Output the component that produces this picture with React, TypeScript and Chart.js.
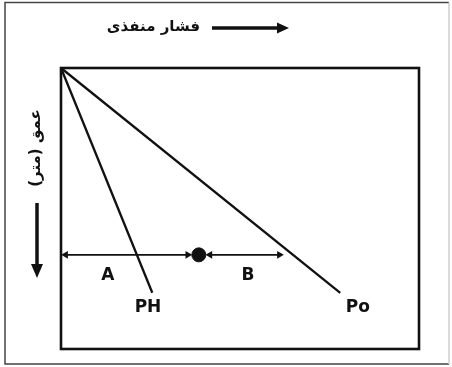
import React, { useEffect, useRef } from "react";
import { Chart, registerables } from "chart.js";

Chart.register(...registerables);

// Data (x: pore pressure, y: depth, both 0..100 in arbitrary units)
const phX = [0, 25.5];
const phY = [0, 80];
const poX = [0, 78];
const poY = [0, 80];
const markerX = [38.5];
const markerY = [66.5];
const arrowAX = [1.3, 35.4];
const arrowBX = [41.6, 61];
const arrowY = [66.5, 66.5];
const pointLabels = ["A", "B", "PH", "Po"];
const pointLabelX = [13.1, 52.2, 24.3, 82.9];
const pointLabelY = [74, 74, 85.4, 85.4];
const titleText = "فشار منفذی";
const yAxisText = "عمق (متر)";

const zip = (xs: number[], ys: number[]) => xs.map((x, i) => ({ x, y: ys[i] }));

const decorPlugin = {
  id: "decor",
  beforeDraw(chart: any) {
    const ctx = chart.ctx;
    ctx.save();
    ctx.fillStyle = "#ffffff";
    ctx.fillRect(0, 0, chart.width, chart.height);
    // outer frame
    ctx.strokeStyle = "#444";
    ctx.lineWidth = 1.5;
    ctx.beginPath();
    ctx.moveTo(449, 2.5);
    ctx.lineTo(5, 2.5);
    ctx.lineTo(5, 364);
    ctx.lineTo(449, 364);
    ctx.stroke();
    ctx.strokeStyle = "#cfcfcf";
    ctx.beginPath();
    ctx.moveTo(449, 2.5);
    ctx.lineTo(449, 364);
    ctx.stroke();
    ctx.restore();
  },
  afterDraw(chart: any) {
    const ctx = chart.ctx;
    const { left, top, right, bottom } = chart.chartArea;
    const xs = chart.scales.x;
    const ys = chart.scales.y;
    ctx.save();
    // inner frame
    ctx.strokeStyle = "#111";
    ctx.lineWidth = 2.6;
    ctx.strokeRect(left, top, right - left, bottom - top);

    // title
    ctx.fillStyle = "#111";
    ctx.font = "bold 15px 'DejaVu Sans'";
    ctx.textAlign = "right";
    ctx.textBaseline = "middle";
    ctx.direction = "rtl";
    ctx.fillText(titleText, 200, 27);
    ctx.direction = "ltr";
    // title arrow
    ctx.strokeStyle = "#111";
    ctx.lineWidth = 3.5;
    ctx.beginPath();
    ctx.moveTo(212, 28);
    ctx.lineTo(280, 28);
    ctx.stroke();
    ctx.beginPath();
    ctx.moveTo(289, 28);
    ctx.lineTo(277, 22.5);
    ctx.lineTo(277, 33.5);
    ctx.closePath();
    ctx.fill();

    // y label
    ctx.save();
    ctx.translate(36, 148);
    ctx.rotate(-Math.PI / 2);
    ctx.textAlign = "center";
    ctx.textBaseline = "middle";
    ctx.font = "bold 15px 'DejaVu Sans'";
    ctx.direction = "rtl";
    ctx.fillText(yAxisText, 0, 0);
    ctx.restore();
    // y arrow
    ctx.lineWidth = 3.5;
    ctx.beginPath();
    ctx.moveTo(37, 203);
    ctx.lineTo(37, 266);
    ctx.stroke();
    ctx.beginPath();
    ctx.moveTo(37, 278);
    ctx.lineTo(31, 264);
    ctx.lineTo(43, 264);
    ctx.closePath();
    ctx.fill();

    // point labels
    ctx.font = "bold 17px 'DejaVu Sans'";
    ctx.textAlign = "center";
    ctx.textBaseline = "middle";
    pointLabels.forEach((t, i) => {
      ctx.fillText(t, xs.getPixelForValue(pointLabelX[i]), ys.getPixelForValue(pointLabelY[i]));
    });
    ctx.restore();
  },
};

export default function App() {
  const ref = useRef<HTMLCanvasElement>(null);
  useEffect(() => {
    document.body.style.margin = "0";
    const lineDs = (data: any[]) => ({
      data,
      showLine: true,
      borderColor: "#111",
      borderWidth: 2.3,
      pointRadius: 0,
      clip: false,
    });
    const arrowDs = (xs: number[]) => ({
      data: zip(xs, arrowY),
      showLine: true,
      borderColor: "#111",
      backgroundColor: "#111",
      borderWidth: 1.6,
      pointStyle: "triangle",
      pointRadius: 4.5,
      pointRotation: [-90, 90],
      pointBorderWidth: 0,
      clip: false,
    });
    const chart = new Chart(ref.current!, {
      type: "scatter",
      data: {
        datasets: [
          lineDs(zip(phX, phY)),
          lineDs(zip(poX, poY)),
          arrowDs(arrowAX),
          arrowDs(arrowBX),
          {
            data: zip(markerX, markerY),
            pointRadius: 7,
            backgroundColor: "#111",
            borderColor: "#111",
            clip: false,
          } as any,
        ],
      },
      options: {
        animation: false,
        responsive: false,
        layout: { padding: { left: 61, top: 68, right: 33, bottom: 18 } },
        plugins: { legend: { display: false }, tooltip: { enabled: false }, title: { display: false } },
        scales: {
          x: { type: "linear", min: 0, max: 100, display: false },
          y: { type: "linear", min: 0, max: 100, reverse: true, display: false },
        },
      } as any,
      plugins: [decorPlugin],
    });
    return () => chart.destroy();
  }, []);
  return (
    <div style={{ width: 452, height: 367 }}>
      <canvas ref={ref} width={452} height={367} style={{ display: "block" }} />
    </div>
  );
}
